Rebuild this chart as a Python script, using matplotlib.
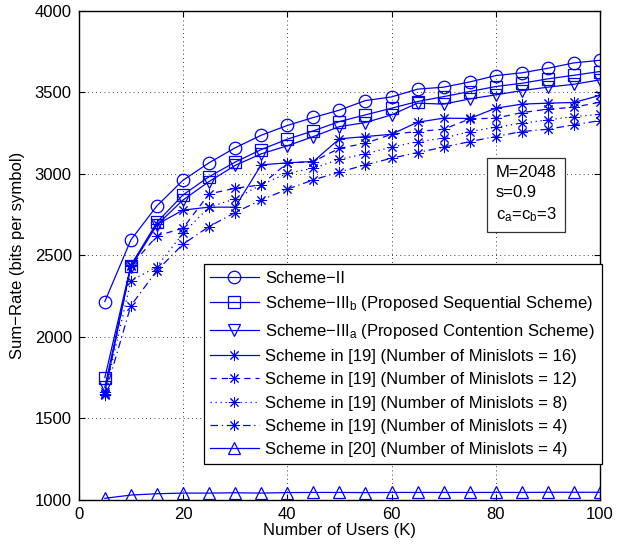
import numpy as np
import matplotlib
matplotlib.use("Agg")
import matplotlib.pyplot as plt

plt.rcParams['font.family'] = ['Liberation Sans', 'DejaVu Sans']
plt.rcParams['mathtext.default'] = 'regular'

# number of users
users = [5, 10, 15, 20, 25, 30, 35, 40, 45, 50, 55, 60, 65, 70, 75, 80, 85, 90, 95, 100]

scheme_2 = [2217, 2595, 2804, 2961, 3068, 3160, 3237, 3297, 3346, 3391,
            3450, 3472, 3520, 3532, 3564, 3603, 3620, 3648, 3681, 3697]
scheme_3b = [1750, 2438, 2703, 2871, 2983, 3072, 3149, 3213, 3264, 3321,
             3362, 3403, 3444, 3474, 3505, 3536, 3556, 3583, 3605, 3628]
scheme_3a = [1691, 2430, 2687, 2840, 2953, 3052, 3123, 3172, 3229, 3290,
             3315, 3362, 3434, 3428, 3460, 3485, 3511, 3532, 3550, 3577]
ms16 = [1660, 2440, 2690, 2778, 2796, 2796, 3055, 3068, 3076, 3215,
        3229, 3243, 3317, 3342, 3340, 3403, 3428, 3434, 3438, 3482]
ms12 = [1652, 2435, 2620, 2667, 2877, 2912, 2933, 3066, 3076, 3157,
        3188, 3243, 3260, 3274, 3337, 3342, 3376, 3397, 3409, 3440]
ms8 = [1648, 2344, 2431, 2636, 2796, 2847, 2933, 3004, 3034, 3090,
       3123, 3164, 3198, 3219, 3260, 3286, 3311, 3331, 3352, 3365]
ms4 = [1644, 2192, 2407, 2569, 2677, 2763, 2840, 2906, 2963, 3012,
       3055, 3096, 3131, 3164, 3198, 3229, 3260, 3274, 3301, 3327]
ref20 = [1010, 1030, 1038, 1042, 1042, 1044, 1042, 1045, 1046, 1046,
         1045, 1046, 1046, 1046, 1046, 1046, 1046, 1047, 1047, 1047]

labels = ['Scheme\u2212II',
          'Scheme\u2212III$_b$ (Proposed Sequential Scheme)',
          'Scheme\u2212III$_a$ (Proposed Contention Scheme)',
          'Scheme in [19] (Number of Minislots = 16)',
          'Scheme in [19] (Number of Minislots = 12)',
          'Scheme in [19] (Number of Minislots = 8)',
          'Scheme in [19] (Number of Minislots = 4)',
          'Scheme in [20] (Number of Minislots = 4)']

fig = plt.figure(figsize=(6.25, 5.44), dpi=100)
ax = fig.add_axes([0.126, 0.081, 0.834, 0.899])

blue = (0, 0, 1)
lw = 0.9
star = (8, 2, 0)
ax.plot(users, scheme_2, color=blue, lw=lw, marker='o', ms=9, mfc='none', mew=0.9, label=labels[0])
ax.plot(users, scheme_3b, color=blue, lw=lw, marker='s', ms=8, mfc='none', mew=0.9, label=labels[1])
ax.plot(users, scheme_3a, color=blue, lw=lw, marker='v', ms=9, mfc='none', mew=0.9, label=labels[2])
ax.plot(users, ms16, color=blue, lw=lw, marker=star, ms=8, mew=0.7, label=labels[3])
ax.plot(users, ms12, color=blue, lw=lw, ls=(0, (5, 4)), marker=star, ms=8, mew=0.7, label=labels[4])
ax.plot(users, ms8, color=blue, lw=lw, ls=(0, (1, 3)), marker=star, ms=8, mew=0.7, label=labels[5])
ax.plot(users, ms4, color=blue, lw=lw, ls=(0, (6, 3, 1, 3)), marker=star, ms=8, mew=0.7, label=labels[6])
ax.plot(users, ref20, color=blue, lw=lw, marker='^', ms=9, mfc='none', mew=0.9, label=labels[7])

ax.set_xlim(0, 100)
ax.set_ylim(1000, 4000)
ax.set_xticks([0, 20, 40, 60, 80, 100])
ax.set_yticks([1000, 1500, 2000, 2500, 3000, 3500, 4000])
ax.tick_params(direction='in', top=True, right=True, labelsize=12, length=4, pad=5)
ax.grid(True, color='k', ls=(0, (1, 4)), lw=0.6)
for s in ax.spines.values():
    s.set_linewidth(1.0)

ax.set_xlabel('Number of Users (K)', fontsize=12, labelpad=1)
ax.set_ylabel('Sum\u2212Rate (bits per symbol)', fontsize=12, labelpad=7)

leg = ax.legend(loc='lower right', bbox_to_anchor=(1.003, 0.0736), borderaxespad=0,
                fontsize=12, handlelength=2.9, handletextpad=0.4, labelspacing=0.5,
                fancybox=False, framealpha=1, edgecolor='k', borderpad=0.4)
leg.get_frame().set_linewidth(0.9)

ax.text(0.80, 0.685, 'M=2048\ns=0.9\nc$_a$=c$_b$=3', transform=ax.transAxes,
        fontsize=12, va='top', ha='left', linespacing=1.4,
        bbox=dict(boxstyle='square,pad=0.5', fc='white', ec='#333333', lw=0.9))

fig.savefig('out.png', dpi=100)
